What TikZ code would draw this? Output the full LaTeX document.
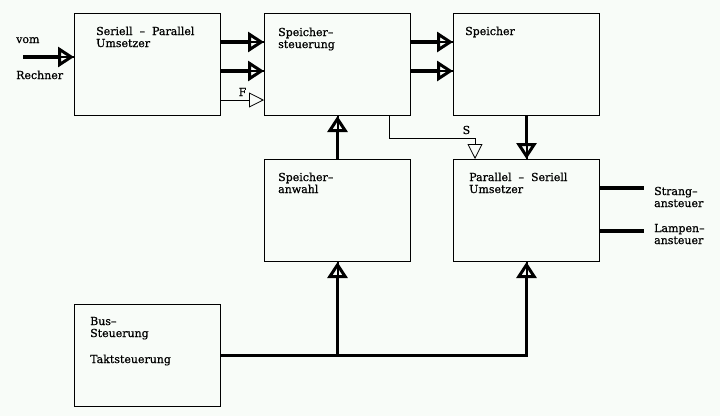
\documentclass[tikz,border=0pt]{standalone}
\usepackage{fontspec}
\setmainfont{DejaVu Serif}[FakeBold=0.7]
\usetikzlibrary{arrows.meta}
\definecolor{paper}{RGB}{248,252,248}

\begin{document}
\begin{tikzpicture}[x=1pt, y=-1pt, font=\fontsize{11}{12}\selectfont,
  block/.style={draw, line width=1pt, minimum width=146pt, minimum height=102pt, inner sep=0pt, anchor=north west},
  txt/.style={align=left, inner sep=0pt, anchor=base west},
  bus line/.style={line width=3.5pt},
  big arrow/.style={line width=3.5pt, -{Triangle[open, length=16pt, width=20pt, line width=3pt]}, postaction={draw, -, line width=2pt}},
  small arrow/.style={line width=0.8pt, -{Triangle[open, length=15pt, width=15pt]}}]

                \fill[paper] (0,0) rectangle (720,416);
                \useasboundingbox (0,0) rectangle (720,416);

                \node[block] at (74, 13) (ser) {};
                \node[block] at (264, 13) (stg) {};
                \node[block] at (453, 13) (spe) {};
                \node[block] at (264, 159) (anw) {};
                \node[block] at (453, 159) (pas) {};
                \node[block] at (74, 304) (bus) {};

                % the y of a text is the baseline of its last line
                \node[txt] at (96, 47) (sert) {Seriell~~--~~Parallel\\Umsetzer};
                \node[txt] at (278, 48) (stgt) {Speicher--\\steuerung};
                \node[txt] at (465, 35) (spet) {Speicher};
                \node[txt] at (278, 193) (anwt) {Speicher--\\anwahl};
                \node[txt] at (469, 193) (past) {Parallel~~--~~Seriell\\Umsetzer};
                \node[txt] at (90, 363) (bust) {Bus--\\Steuerung\\[14pt]Taktsteuerung};

                \node[txt] at (16, 43) (vom) {vom};
                \node[txt] at (16, 79) (rechner) {Rechner};
                \node[txt] at (654, 207) (strang) {Strang--\\ansteuer};
                \node[txt] at (654, 244) (lampen) {Lampen--\\ansteuer};
                \coordinate (in) at (23, 57);

                \draw[big arrow] (in) -- (in -| ser.west);
                \draw[big arrow] ([yshift=-29pt]ser.north east) -- ([yshift=-29pt]stg.north west);
                \draw[big arrow] ([yshift=-58pt]ser.north east) -- ([yshift=-58pt]stg.north west);
                \draw[small arrow] ([yshift=-87pt]ser.north east) -- node[txt, anchor=base, yshift=4pt] (f) {F} ([yshift=-87pt]stg.north west);
                \draw[big arrow] ([yshift=-29pt]stg.north east) -- ([yshift=-29pt]spe.north west);
                \draw[big arrow] ([yshift=-58pt]stg.north east) -- ([yshift=-58pt]spe.north west);
                \draw[big arrow] (anw.north) -- (stg.south);
                \draw[big arrow] (spe.south) -- (pas.north);
                \draw[small arrow] ([xshift=-22pt]stg.south east) -- ++(0, 22) -| node[txt, pos=0.45, anchor=base, yshift=4pt] (s) {S} ([xshift=22pt]pas.north west);

                \draw[bus line] ([yshift=-29pt]pas.north east) -- ++(44, 0);
                \draw[bus line] ([yshift=-72pt]pas.north east) -- ++(44, 0);
                \draw[big arrow] (bus.east) -| (pas.south);
                \draw[big arrow] (bus.east -| anw.south) -- (anw.south);
            \end{tikzpicture}
\end{document}
